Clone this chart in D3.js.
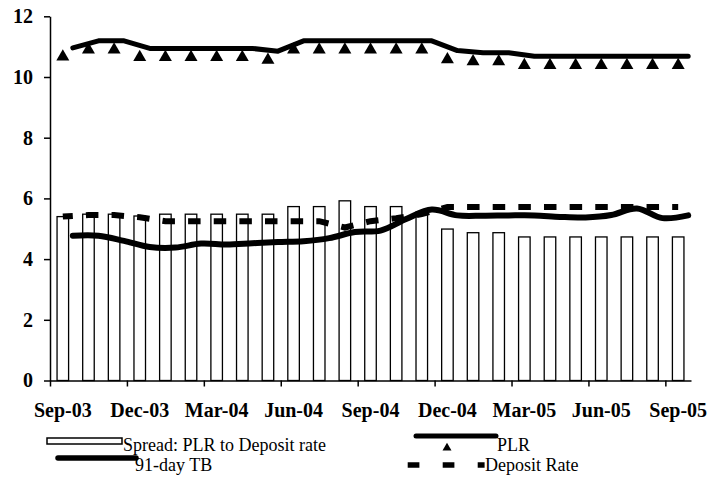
<!DOCTYPE html>
<html><head><meta charset="utf-8">
<script src="https://cdn.jsdelivr.net/npm/d3@7"></script>
<style>
body{margin:0;background:#fff}
svg{display:block}
</style></head>
<body><svg id="c" width="727" height="477"></svg>
<script>
const months = ["Sep-03","Oct-03","Nov-03","Dec-03","Jan-04","Feb-04","Mar-04","Apr-04","May-04","Jun-04","Jul-04","Aug-04","Sep-04","Oct-04","Nov-04","Dec-04","Jan-05","Feb-05","Mar-05","Apr-05","May-05","Jun-05","Jul-05","Aug-05","Sep-05"];
const tickLabels = ["Sep-03","Dec-03","Mar-04","Jun-04","Sep-04","Dec-04","Mar-05","Jun-05","Sep-05"];
const yTicks = [0,2,4,6,8,10,12];
const spread = [5.40,5.48,5.48,5.42,5.48,5.48,5.48,5.48,5.48,5.73,5.73,5.92,5.73,5.73,5.55,4.99,4.87,4.87,4.73,4.73,4.73,4.73,4.73,4.73,4.73];
const plr = [10.73,10.96,10.96,10.71,10.71,10.71,10.71,10.71,10.62,10.96,10.96,10.96,10.96,10.96,10.96,10.64,10.57,10.57,10.45,10.45,10.45,10.45,10.45,10.45,10.45];
const tb = [4.54,4.54,4.37,4.17,4.15,4.28,4.25,4.29,4.33,4.36,4.46,4.66,4.71,5.09,5.40,5.21,5.20,5.21,5.21,5.16,5.14,5.22,5.44,5.12,5.21];
const deposit = [5.40,5.45,5.45,5.38,5.25,5.25,5.25,5.25,5.25,5.25,5.25,5.04,5.25,5.35,5.48,5.72,5.72,5.72,5.72,5.72,5.72,5.72,5.72,5.72,5.72];
const legendLabels = ["Spread: PLR to Deposit rate","PLR","91-day TB","Deposit Rate"];

const FONT = "'Liberation Serif', 'Times New Roman', Tinos, 'DejaVu Serif', serif";
const svg = d3.select("#c");
const L = 50, R = 691, B = 380.5, T = 16.3;
const x = d3.scaleBand().domain(months).range([L,R]).paddingInner(0.55).paddingOuter(0.275);
const cx = m => x(m) + x.bandwidth()/2;
const xIdx = d3.scaleLinear().domain([0,months.length]).range([L,R]);
const y = d3.scaleLinear().domain([0,12]).range([B,T]);

// bars
svg.append("g").selectAll("rect").data(spread).join("rect")
  .attr("x",(d,i)=>x(months[i])).attr("y",d=>y(d))
  .attr("width",x.bandwidth()).attr("height",d=>y(0)-y(d))
  .attr("fill","#fff").attr("stroke","#000").attr("stroke-width",1.3);

const line = d3.line().x((d,i)=>cx(months[i])).y(d=>y(d));

// deposit rate (dashed)
svg.append("path").attr("d",line(deposit))
  .attr("fill","none").attr("stroke","#000").attr("stroke-width",6)
  .attr("stroke-dasharray","12.5,13.14").attr("stroke-dashoffset",2.5);

// solid lines (rendered offset as in the reference)
const shifted = svg.append("g").attr("transform","translate(10,-7)");
shifted.append("path").attr("d",line.curve(d3.curveCatmullRom)(tb))
  .attr("fill","none").attr("stroke","#000").attr("stroke-width",6)
  .attr("stroke-linecap","round").attr("stroke-linejoin","round");

// PLR markers
const tri = d3.symbol(d3.symbolTriangle, 73);
svg.append("g").selectAll("path").data(plr).join("path")
  .attr("d",tri).attr("fill","#000")
  .attr("transform",(d,i)=>`translate(${cx(months[i])},${y(d)+1.9})`);

shifted.append("path").attr("d",line.curve(d3.curveLinear)(plr))
  .attr("fill","none").attr("stroke","#000").attr("stroke-width",5)
  .attr("stroke-linecap","round").attr("stroke-linejoin","round");

// axes
const yAxis = svg.append("g").attr("transform",`translate(${L},0)`)
  .call(d3.axisLeft(y).tickValues(yTicks).tickSize(6).tickSizeOuter(0).tickPadding(11));
yAxis.attr("font-family",null).attr("font-size",null);
yAxis.selectAll("text").attr("font-family",FONT).style("font-family",FONT)
  .style("font-size","20px").style("font-weight","bold").attr("fill","#000");

svg.append("g").attr("transform",`translate(0,${B})`)
  .call(d3.axisBottom(xIdx).tickValues(d3.range(0,months.length,3)).tickSize(6).tickSizeOuter(0).tickFormat(""));

const xLab = svg.append("g").attr("transform",`translate(0,${B})`)
  .call(d3.axisBottom(x).tickValues(tickLabels).tickSize(0).tickPadding(22));
xLab.select(".domain").remove();
xLab.attr("font-family",null).attr("font-size",null);
xLab.selectAll("text").attr("font-family",FONT).style("font-family",FONT)
  .style("font-size","20px").style("font-weight","bold").attr("fill","#000");

svg.selectAll(".domain, .tick line").attr("stroke","#000").attr("stroke-width",1.5);

// legend
const lg = svg.append("g");
const lt = (xp, yp, s) => lg.append("text").attr("x",xp).attr("y",yp)
  .attr("font-family",FONT).style("font-family",FONT).style("font-size","18px").attr("fill","#000").text(s);

lg.append("rect").attr("x",47).attr("y",438).attr("width",75).attr("height",6)
  .attr("fill","#fff").attr("stroke","#000").attr("stroke-width",1.5);
lt(123, 451, legendLabels[0]);

lg.append("line").attr("x1",416).attr("x2",496).attr("y1",436).attr("y2",436)
  .attr("stroke","#000").attr("stroke-width",5).attr("stroke-linecap","round");
lg.append("path").attr("d",d3.symbol(d3.symbolTriangle,35)).attr("fill","#000")
  .attr("transform","translate(447,448)");
lt(497, 451, legendLabels[1]);

lg.append("line").attr("x1",58).attr("x2",136).attr("y1",458).attr("y2",458)
  .attr("stroke","#000").attr("stroke-width",5.5).attr("stroke-linecap","round");
lt(135, 471, legendLabels[2]);

lg.append("line").attr("x1",407.7).attr("x2",484.6).attr("y1",465).attr("y2",465)
  .attr("stroke","#000").attr("stroke-width",5.6).attr("stroke-dasharray","11.7,23.3");
lt(485, 471, legendLabels[3]);
</script>
</body></html>
